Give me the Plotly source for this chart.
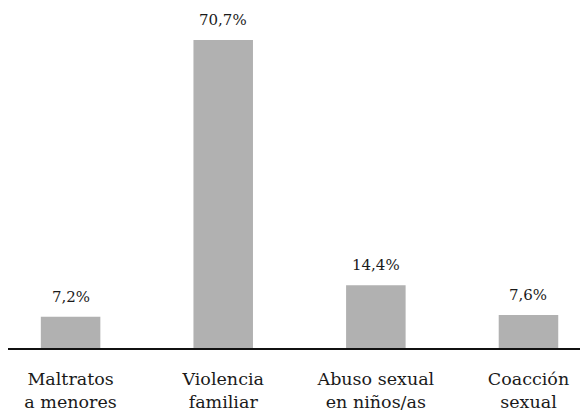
import plotly.graph_objects as go

categories = ["Maltratos<br>a menores", "Violencia<br>familiar", "Abuso sexual<br>en niños/as", "Coacción<br>sexual"]
values = [7.2, 70.7, 14.4, 7.6]
value_labels = ["7,2%", "70,7%", "14,4%", "7,6%"]

FONT = "DejaVu Serif"

fig = go.Figure()
fig.add_trace(go.Bar(
    x=list(range(len(categories))), y=values,
    marker=dict(color="#b1b1b1", line=dict(width=0)),
    width=0.39,
))

for i, (v, t) in enumerate(zip(values, value_labels)):
    fig.add_annotation(x=i, y=v, text=t, showarrow=False, yanchor="bottom",
                       yshift=9, font=dict(family=FONT, size=15, color="#1a1a1a"))

fig.update_layout(
    width=580, height=405,
    margin=dict(l=0, r=0, t=2, b=65, autoexpand=False),
    paper_bgcolor="white", plot_bgcolor="white",
    showlegend=False,
    font=dict(family=FONT, color="#1a1a1a"),
    xaxis=dict(
        range=[-0.41, 3.39],
        tickmode="array", tickvals=list(range(len(categories))), ticktext=categories,
        tickfont=dict(family=FONT, size=17.5, color="#1a1a1a"),
        showgrid=False, zeroline=False, automargin=False,
        showline=True, linecolor="#111111", linewidth=1.5,
        ticks="", ticklabelstandoff=14,
    ),
    yaxis=dict(range=[0, 77.6], visible=False, showgrid=False, zeroline=False),
)

fig.write_html("out.html")
